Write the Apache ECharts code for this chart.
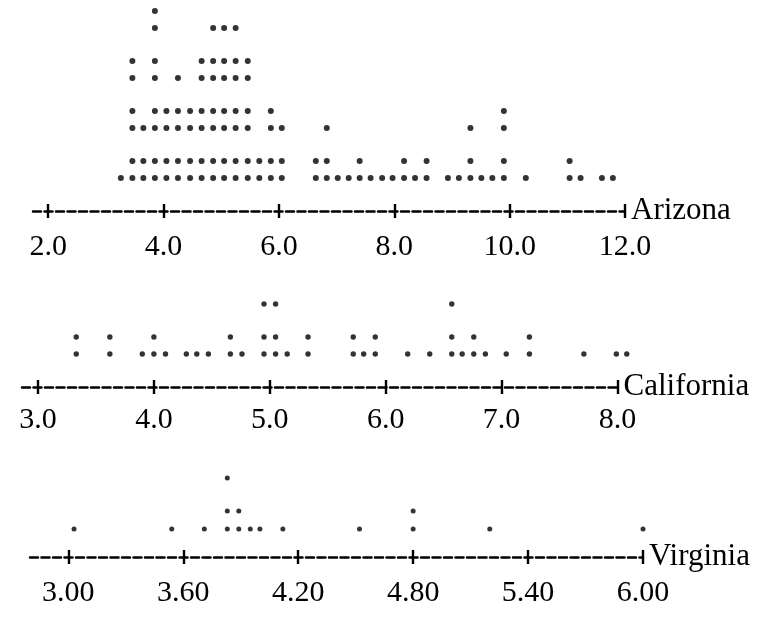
<!DOCTYPE html>
<html>
<head>
<meta charset="utf-8">
<script src="https://cdn.jsdelivr.net/npm/echarts@6/dist/echarts.min.js"></script>
<style>
  html, body { margin: 0; padding: 0; background: #fff; }
  #chart { width: 761px; height: 620px; }
</style>
</head>
<body>
<div id="chart"></div>
<script>
// dot columns (value of the column) and how many dots sit in it
var azValues = [3.26, 3.46, 3.65, 3.85, 4.05, 4.25, 4.46, 4.66, 4.86, 5.05, 5.25, 5.46, 5.66, 5.86, 6.05,
    6.64, 6.83, 7.02, 7.21, 7.40, 7.59, 7.79, 7.97, 8.17, 8.36, 8.56, 8.93, 9.12, 9.32, 9.51, 9.70, 9.90,
    10.28, 11.04, 11.23, 11.60, 11.79];
var azCounts = [1, 6, 3, 8, 4, 5, 4, 6, 7, 7, 7, 6, 2, 4, 3,
    2, 3, 1, 1, 2, 1, 1, 1, 2, 1, 2, 1, 1, 3, 1, 1, 4,
    1, 2, 1, 1, 1];
var azTicks = [2, 4, 6, 8, 10, 12];

var caValues = [3.33, 3.62, 3.90, 4.00, 4.10, 4.28, 4.37, 4.47, 4.66, 4.76, 4.95, 5.05, 5.15, 5.33,
    5.72, 5.81, 5.91, 6.19, 6.38, 6.57, 6.66, 6.76, 6.86, 7.04, 7.24, 7.71, 7.99, 8.08];
var caCounts = [2, 2, 1, 2, 1, 1, 1, 1, 2, 1, 3, 3, 1, 2,
    2, 1, 2, 1, 1, 3, 1, 2, 1, 1, 2, 1, 1, 1];
var caTicks = [3, 4, 5, 6, 7, 8];

var vaValues = [3.03, 3.54, 3.71, 3.83, 3.89, 3.95, 4.00, 4.12, 4.52, 4.80, 5.20, 6.00];
var vaCounts = [1, 1, 1, 3, 2, 1, 1, 1, 1, 2, 1, 1];
var vaTicks = [3.0, 3.6, 4.2, 4.8, 5.4, 6.0];

var FONT = 'Liberation Serif';

// layout of each text-style dotplot panel (pixels)
var panels = [
    { name: 'Arizona', values: azValues, counts: azCounts, ticks: azTicks, dec: 1,
      min: 1.737, max: 12, left: 33, right: 136, axisY: 211, top: 0,
      base: 33, gap: 17, pitch: 50, dot: 6, margin: 21 },
    { name: 'California', values: caValues, counts: caCounts, ticks: caTicks, dec: 1,
      min: 2.862, max: 8, left: 22, right: 143.5, axisY: 387, top: 240,
      base: 33, gap: 17, pitch: 50, dot: 5.4, margin: 18 },
    { name: 'Virginia', values: vaValues, counts: vaCounts, ticks: vaTicks, dec: 2,
      min: 2.8, max: 6, left: 30, right: 118, axisY: 557, top: 420,
      base: 28, gap: 18, pitch: 51, dot: 5, margin: 21 }
];

// stack the dots two per text line, like ':' and '.'
function stackDots(p) {
    var pts = [];
    for (var i = 0; i < p.values.length; i++) {
        for (var n = 0; n < p.counts[i]; n++) {
            var y = p.base + Math.floor(n / 2) * p.pitch + (n % 2) * p.gap;
            pts.push([p.values[i], y]);
        }
    }
    return pts;
}

var grids = [], xAxes = [], yAxes = [], series = [];
panels.forEach(function (p, k) {
    var h = p.axisY - p.top;
    grids.push({ left: p.left, right: p.right, top: p.top, height: h });
    yAxes.push({ gridIndex: k, type: 'value', min: 0, max: h, show: false });
    xAxes.push({
        gridIndex: k, type: 'value', position: 'bottom', min: p.min, max: p.max,
        axisLine: { show: true, onZero: false, lineStyle: { color: '#000', width: 2.5, type: [8, 3.5] } },
        axisTick: { show: true, customValues: p.ticks, length: 7, lineStyle: { color: '#000', width: 2.4 } },
        axisLabel: {
            customValues: p.ticks, margin: p.margin, color: '#000', fontFamily: FONT, fontSize: 30,
            formatter: function (v) { return v.toFixed(p.dec); }
        },
        splitLine: { show: false },
        name: p.name, nameLocation: 'end', nameGap: 6,
        nameTextStyle: { color: '#000', fontFamily: FONT, fontSize: 31 }
    });
    // second axis only to give the ticks their upper half, so they read as '+'
    xAxes.push({
        gridIndex: k, type: 'value', position: 'bottom', min: p.min, max: p.max,
        axisLine: { show: false, onZero: false },
        axisTick: { show: true, inside: true, customValues: p.ticks, length: 7, lineStyle: { color: '#000', width: 2.4 } },
        axisLabel: { show: false },
        splitLine: { show: false }
    });
    series.push({
        type: 'scatter', xAxisIndex: 2 * k, yAxisIndex: k,
        symbol: 'circle', symbolSize: p.dot,
        itemStyle: { color: '#000' },
        clip: false,
        silent: true,
        data: stackDots(p)
    });
});

var myChart = echarts.init(document.getElementById('chart'));
var option = {
    backgroundColor: '#fff',
    animation: false,
    grid: grids,
    xAxis: xAxes,
    yAxis: yAxes,
    series: series
};
myChart.setOption(option);
</script>
</body>
</html>
